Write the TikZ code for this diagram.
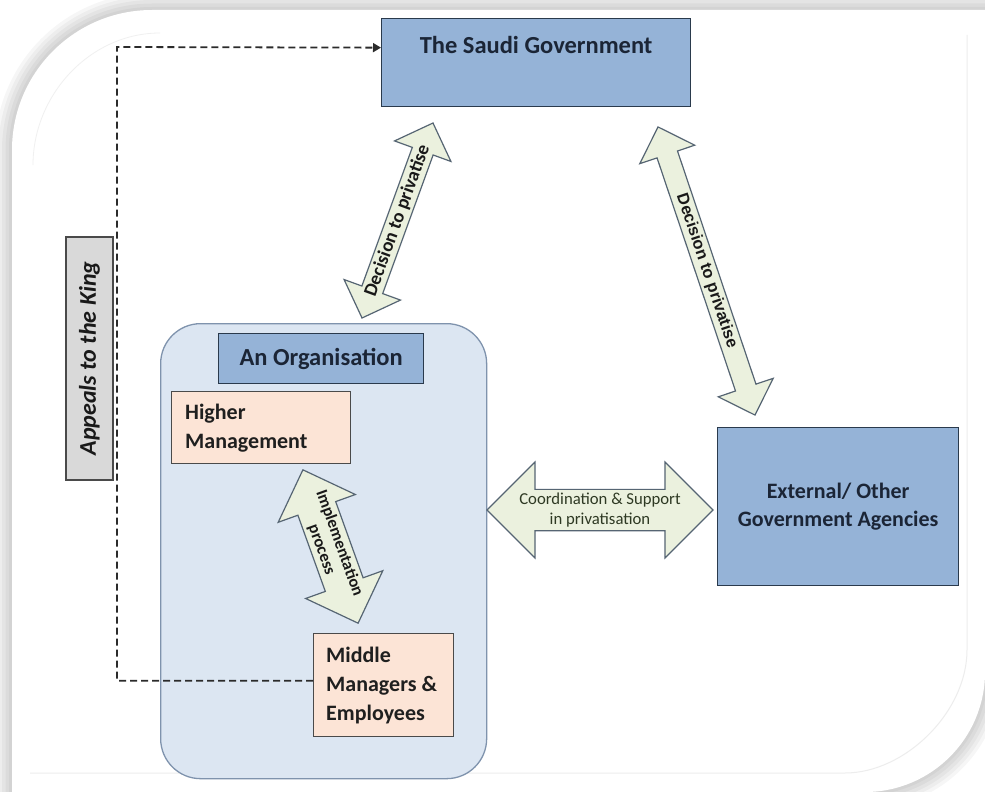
\documentclass[tikz,border=0pt]{standalone}
\usepackage{fontspec}
\setmainfont{Carlito}
\newfontfamily\arialfont{Liberation Sans}
\usetikzlibrary{shapes.arrows,arrows.meta,positioning}

\definecolor{govblue}{HTML}{95B3D7}
\definecolor{govedge}{HTML}{2A3A4C}
\definecolor{orgfill}{HTML}{DCE6F2}
\definecolor{orgedge}{HTML}{7F93AD}
\definecolor{peach}{HTML}{FCE4D6}
\definecolor{peachedge}{HTML}{4A4A4A}
\definecolor{arrowfill}{HTML}{EBF1DE}
\definecolor{arrowedge}{HTML}{566573}
\definecolor{kinggrey}{HTML}{D9D9D9}
\definecolor{inkblue}{HTML}{1B2536}
\definecolor{inkolive}{HTML}{2E3923}
\definecolor{dashink}{HTML}{2B2B2B}

% outline of the white sheet with its two rounded corners
\def\sheetpath{(12,792) -- (12,150) .. controls (12,72.7) and (74.7,10) .. (152,10)
  -- (985,10) -- (985,672) .. controls (985,738.2) and (931.2,792) .. (865,792) -- cycle}

\begin{document}
\begin{tikzpicture}[x=1pt,y=-1pt,
  bluebox/.style={draw=govedge, fill=govblue, line width=1.3pt, inner sep=0pt},
  peachbox/.style={draw=peachedge, fill=peach, line width=1.3pt, inner sep=0pt},
  boxtext/.style={font=\fontsize{22}{29}\selectfont\bfseries, text=black!88, align=left, inner sep=0pt},
  blockarrow/.style={double arrow, draw=arrowedge, fill=arrowfill, line width=1.2pt,
    inner ysep=0pt, double arrow tip angle=90},
  kingline/.style={draw=dashink, line width=1.8pt, dash pattern=on 7pt off 4pt}
]
\useasboundingbox (0,0) rectangle (985,792);
\fill[white] (0,0) rectangle (985,792);

% soft shadow around the sheet
\foreach \w in {34,27,20,13,6}{
  \draw[black, line width=\w pt, opacity=0.035] \sheetpath;
}
\fill[white] \sheetpath;

% faint inner rim of the sheet
\draw[black!7, line width=1pt] (30,773) -- (845,773) .. controls (905,773) and (967,712) .. (967,650) -- (967,35);
\draw[black!6, line width=0.8pt] (33,165) .. controls (33,95) and (90,33) .. (160,33);

% the organisation container
\node[draw=orgedge, fill=orgfill, line width=1.3pt, rounded corners=40pt,
  minimum width=326pt, minimum height=455pt, anchor=north west, inner sep=0pt] (org) at (160,323) {};
\node[bluebox, minimum width=205pt, minimum height=50pt, anchor=north west,
  font=\fontsize{24.5}{28}\selectfont\bfseries, text=inkblue] (orgtitle) at (218,333) {An Organisation};

% government boxes
\node[bluebox, minimum width=309pt, minimum height=88pt, anchor=north west] (gov) at (381,18) {};
\node[font=\fontsize{24.5}{28}\selectfont\bfseries, text=inkblue, anchor=north, inner sep=0pt]
  (govtext) at ([yshift=-18pt]gov.north) {The Saudi Government};
\node[bluebox, minimum width=241pt, minimum height=158pt, anchor=north west,
  font=\fontsize{22}{28}\selectfont\bfseries, text=inkblue, align=center] (ext) at (717,427)
  {External/ Other\\Government Agencies};

% management levels
\node[peachbox, minimum width=179pt, minimum height=72pt, anchor=north west] (hm) at (171,391) {};
\node[boxtext, anchor=west] (hmtext) at ([xshift=14pt]hm.west) {Higher\\Management};
\node[peachbox, minimum width=140pt, minimum height=103pt, anchor=north west] (mm) at (313,633) {};
\node[boxtext, anchor=west] (mmtext) at ([xshift=13pt]mm.west) {Middle\\Managers \&\\Employees};

% appeal route to the King
\node[draw=peachedge, fill=kinggrey, line width=1.2pt, minimum width=243pt, minimum height=47pt,
  rotate=90, font=\fontsize{24}{28}\selectfont\bfseries\itshape, text=black!90, inner sep=0pt]
  (king) at (89.5,358.5) {Appeals to the King};
\coordinate (bend) at (117,47);
\draw[kingline, -{Triangle[length=8pt,width=9pt]}] ([yshift=4.5pt]mm.west) -| (bend) -- ([yshift=15pt]gov.west);

% two-way block arrows
\node[blockarrow, minimum height=207.5pt, minimum width=60pt, double arrow head extend=15pt,
  inner xsep=-14pt, rotate=70, font=\fontsize{19}{21}\selectfont\bfseries, text=black!90]
  (dec1) at (397.5,220.5) {Decision to privatise};
\node[blockarrow, minimum height=304pt, minimum width=58pt, double arrow head extend=14pt,
  inner xsep=0pt, rotate=-71.4, font=\arialfont\fontsize{16.5}{18}\selectfont\bfseries, text=black!90]
  (dec2) at (706.5,271) {Decision to privatise};
\node[blockarrow, minimum height=163pt, minimum width=82pt, double arrow head extend=18pt,
  inner xsep=-20pt, rotate=-70.2, align=center, font=\fontsize{16.7}{19}\selectfont\bfseries, text=black!90]
  (impl) at (330.5,546.5) {Implementation\\process};
\node[blockarrow, minimum height=226pt, minimum width=96pt, double arrow head extend=23.5pt,
  inner xsep=-20pt, align=center, font=\fontsize{16.7}{20}\selectfont, text=inkolive]
  (coord) at (600,510) {Coordination \& Support\\in privatisation};
\end{tikzpicture}
\end{document}
